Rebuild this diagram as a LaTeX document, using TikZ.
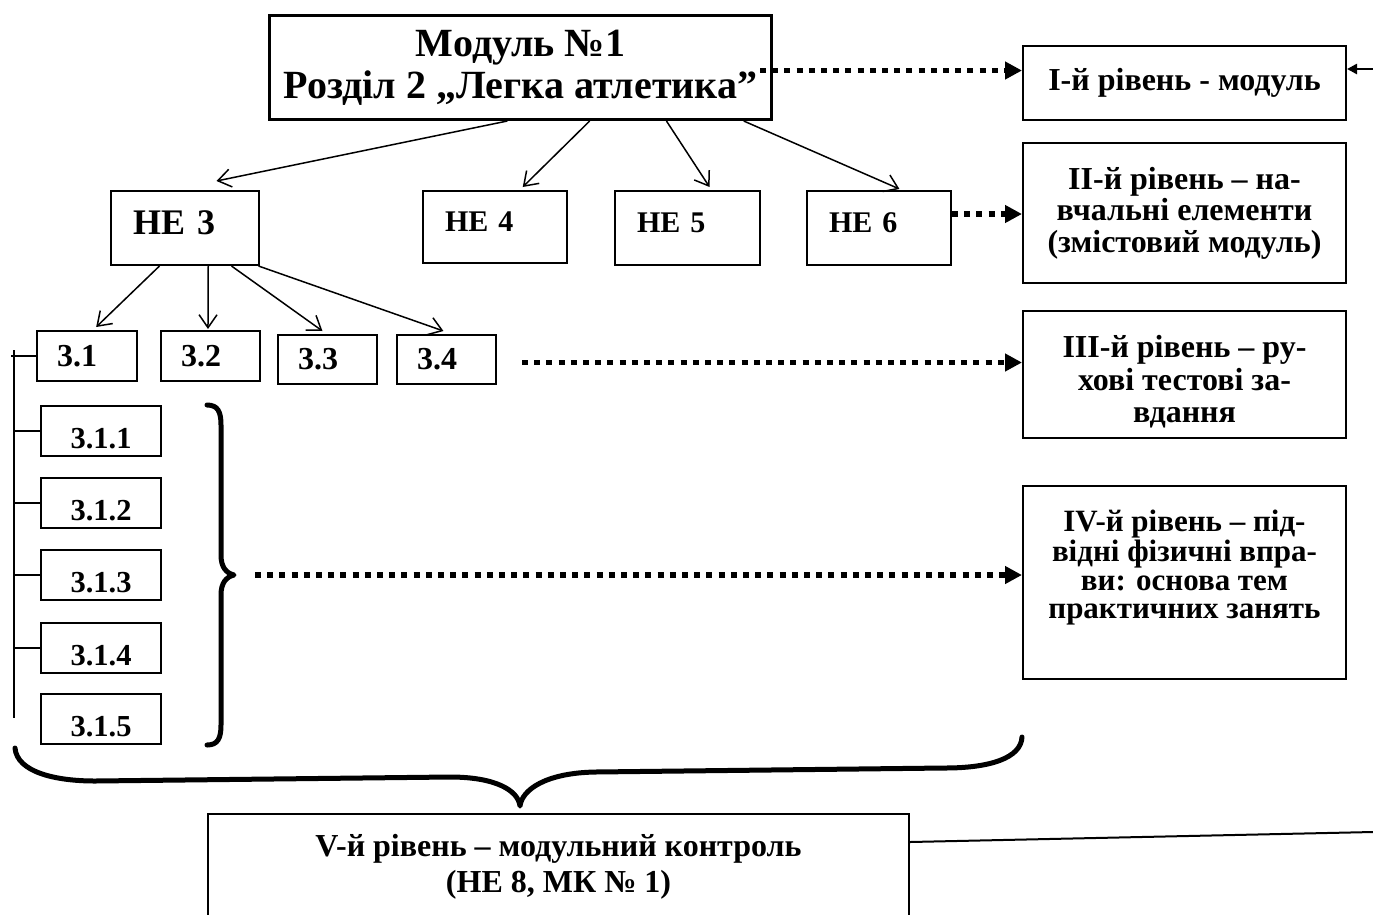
\documentclass[tikz,border=0pt]{standalone}
\usepackage{fontspec}
\setmainfont{Liberation Serif}
\usetikzlibrary{arrows.meta,calc}
\newcommand\fTitle{\fontsize{40}{42}\selectfont\bfseries}
\newcommand\fBig{\fontsize{36}{43}\selectfont\bfseries}
\newcommand\fMid{\fontsize{30}{34}\selectfont\bfseries}
\newcommand\fSmall{\fontsize{32}{34}\selectfont\bfseries}
\newcommand\fSub{\fontsize{30.5}{34}\selectfont\bfseries}
\newcommand\fLev{\fontsize{32}{31.5}\selectfont\bfseries}
\newcommand\fLevC{\fontsize{32}{32.5}\selectfont\bfseries}
\newcommand\fLevB{\fontsize{31}{28.5}\selectfont\bfseries}
\newcommand\fLevV{\fontsize{32}{36}\selectfont\bfseries}
\newcommand\shiftv[2]{\raisebox{#1}[\height][\depth]{#2}}
\begin{document}
\begin{tikzpicture}[x=1pt,y=-1pt,
  box/.style={draw, line width=2pt, inner sep=0pt, anchor=north west},
  bx/.style 2 args={box, minimum width=#1, minimum height=#2},
  lefttext/.style 2 args={align=left, text width=#1, inner xsep=#2},
  tree/.style={line width=1.5pt},
  arr/.style={line width=1.5pt, -{Straight Barb[length=13pt,width=18pt,line width=1.5pt]}},
  dotarr/.style={line width=5.5pt, line cap=butt, dash pattern=on 6pt off 6.2pt,
     -{Triangle[length=17pt,width=17pt]}},
  brace/.style={line width=5pt, line cap=round, line join=round},
]
\useasboundingbox (0,0) rectangle (1373,914);
\clip (0,0) rectangle (1373,914);

% level I
\node[bx={502}{104}, line width=3pt, align=center, font=\fTitle] (T) at (268,14)
  {Модуль №1\\Розділ 2 „Легка атлетика”};
\node[bx={323}{74}, align=center, font=\fLev] (L1) at (1022,45) {І-й рівень - модуль};

% level II
\node[bx={148}{74}, lefttext={104pt}{22pt}, font=\fBig] (H3) at (110,190) {\shiftv{5pt}{НЕ 3}};
\node[bx={144}{72}, lefttext={100pt}{22pt}, font=\fMid] (H4) at (422,190) {\shiftv{5pt}{НЕ 4}};
\node[bx={145}{74}, lefttext={101pt}{22pt}, font=\fMid] (H5) at (614,190) {\shiftv{5pt}{НЕ 5}};
\node[bx={144}{74}, lefttext={100pt}{22pt}, font=\fMid] (H6) at (806,190) {\shiftv{5pt}{НЕ 6}};
\node[bx={323}{140}, align=center, font=\fLev] (L2) at (1022,142)
  {ІІ-й рівень – на-\\вчальні елементи\\(змістовий модуль)};

% level III
\node[bx={100}{50}, lefttext={60pt}{20pt}, font=\fSmall] (b31) at (36,330) {3.1};
\node[bx={99}{50}, lefttext={59pt}{20pt}, font=\fSmall] (b32) at (160,330) {3.2};
\node[bx={99}{49}, lefttext={59pt}{20pt}, font=\fSmall] (b33) at (277,334) {3.3};
\node[bx={99}{49}, lefttext={59pt}{20pt}, font=\fSmall] (b34) at (396,334) {3.4};
\node[bx={323}{127}, font=\fLevC] (L3) at (1022,310)
  {\shiftv{-9pt}{\begin{tabular}{@{}c@{}}ІІІ-й рівень – ру-\\хові тестові за-\\вдання\end{tabular}}};

% level IV
\foreach \n/\y in {1/405,2/477,3/549,4/622,5/693}
  \node[bx={120}{50}, align=center, font=\fSub] (b31\n) at (40,\y) {\shiftv{-8pt}{3.1.\n}};
\node[bx={323}{193}, font=\fLevB] (L4) at (1022,485)
  {\shiftv{14pt}{\begin{tabular}{@{}c@{}}IV-й рівень – під-\\відні фізичні впра-\\ви: основа тем\\практичних занять\end{tabular}}};

% level V
\node[bx={701}{106}, align=center, font=\fLevV] (V) at (207,813)
  {V-й рівень – модульний контроль\\(НЕ 8, МК № 1)};

% arrows from module
\draw[arr] ($(T.south west)!0.474!(T.south east)$) -- ($(H3.north west)!0.71!(H3.north east)+(0,-9)$);
\draw[arr] ($(T.south west)!0.637!(T.south east)$) -- ($(H4.north west)!0.69!(H4.north east)+(0,-3)$);
\draw[arr] ($(T.south west)!0.789!(T.south east)$) -- ($(H5.north west)!0.65!(H5.north east)+(0,-3)$);
\draw[arr] ($(T.south west)!0.942!(T.south east)$) -- ($(H6.north west)!0.64!(H6.north east)+(0,-1)$);

% arrows from HE 3
\draw[arr] ($(H3.south west)!0.33!(H3.south east)$) -- ($(b31.north west)!0.59!(b31.north east)+(0,-3)$);
\draw[arr] ($(H3.south west)!0.655!(H3.south east)$) -- ($(b32.north west)!0.475!(b32.north east)+(0,-1)$);
\draw[arr] ($(H3.south west)!0.81!(H3.south east)$) -- ($(b33.north west)!0.45!(b33.north east)+(0,-3)$);
\draw[arr] ($(H3.south west)!0.99!(H3.south east)$) -- ($(b34.north west)!0.47!(b34.north east)+(0,-3)$);

% tree of 3.1
\coordinate (tk) at (14,350);
\coordinate (tkb) at (14,718);
\draw[tree] (tk) -- (tkb);
\draw[tree] ([xshift=-3pt]b31.west -| tk) -- (b31.west);
\foreach \n in {1,2,3,4}
  \draw[tree] (b31\n.west -| tk) -- (b31\n.west);
\draw[tree] ($(b315.north west)!0.3!(b315.south west)$ -| tk) -- ($(b315.north west)!0.3!(b315.south west)$);

% right brace
\coordinate (rb) at (234,575);
\draw[brace] (207,405) .. controls (218,405) and (221,412) .. (221,425) -- (221,555)
  .. controls (221,567) and (226,573) .. (rb)
  .. controls (226,577) and (221,583) .. (221,595) -- (221,725)
  .. controls (221,738) and (218,745) .. (207,745);

% bottom brace
\coordinate (bb) at (520,806);
\draw[brace] (15,748) .. controls (17,772) and (55,781) .. (95,781) -- (450,777)
  .. controls (495,777) and (518,790) .. (bb)
  .. controls (522,790) and (545,773) .. (595,772) -- (945,768)
  .. controls (990,768) and (1021,758) .. (1022,737);

% dotted arrows
\draw[dotarr] ([xshift=-13pt,yshift=-3pt]T.east) -- ([yshift=-3pt]T.east -| L1.west);
\coordinate (d2) at ([yshift=14pt]H6.east);
\draw[dotarr] (d2) -- (d2 -| L2.west);
\coordinate (d3) at ([xshift=25pt,yshift=-3pt]b34.east);
\draw[dotarr] (d3) -- (d3 -| L3.west);
\coordinate (d4) at ([xshift=21pt]rb);
\draw[dotarr] (d4) -- (d4 -| L4.west);

% feedback line
\coordinate (fbin) at (1373,69);
\draw[line width=2.5pt, -{Triangle[length=10pt,width=10pt]}] (fbin) -- (fbin -| L1.east);
\coordinate (fbout) at (1373,832);
\draw[line width=2pt] ([yshift=-29pt]V.north east) -- (fbout);
\end{tikzpicture}
\end{document}
